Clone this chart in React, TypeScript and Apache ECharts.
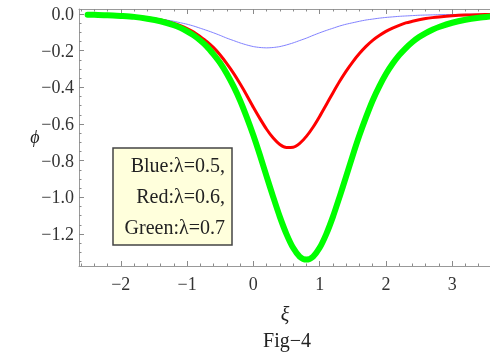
import React, { useEffect, useRef } from "react";
import * as echarts from "echarts";

const xs = [-2.5, -2.4, -2.2, -2.0, -1.8, -1.6, -1.4,
  -1.2, -1.1, -1.0, -0.9, -0.8, -0.7, -0.6, -0.5, -0.4, -0.3, -0.2, -0.1, 0,
  0.1, 0.2, 0.3, 0.4, 0.5, 0.6, 0.7, 0.8, 0.9, 1.0, 1.1, 1.2, 1.3, 1.4, 1.5, 1.6, 1.7, 1.8, 1.9, 2.0,
  2.1, 2.2, 2.3, 2.4, 2.5, 2.6, 2.7, 2.8,
  3.0, 3.2, 3.4, 3.6];
const blueVals = [-0.003, -0.004, -0.006, -0.009, -0.013, -0.019, -0.028,
  -0.040, -0.048, -0.056, -0.066, -0.078, -0.090, -0.103, -0.117, -0.132, -0.145, -0.158, -0.169, -0.178,
  -0.183, -0.185, -0.183, -0.178, -0.169, -0.158, -0.145, -0.132, -0.117, -0.103, -0.090, -0.078, -0.066, -0.056, -0.048, -0.040, -0.033, -0.028, -0.023, -0.019,
  -0.016, -0.013, -0.011, -0.009, -0.007, -0.006, -0.005, -0.004,
  -0.003, -0.002, -0.001, -0.001];
const redVals = [-0.002, -0.003, -0.005, -0.008, -0.013, -0.021, -0.033,
  -0.052, -0.064, -0.080, -0.099, -0.124, -0.151, -0.184, -0.224, -0.271, -0.323, -0.381, -0.443, -0.509,
  -0.571, -0.629, -0.677, -0.712, -0.728, -0.727, -0.706, -0.668, -0.618, -0.559, -0.495, -0.431, -0.369, -0.312, -0.261, -0.216, -0.177, -0.144, -0.118, -0.095,
  -0.077, -0.062, -0.049, -0.040, -0.032, -0.025, -0.020, -0.016,
  -0.010, -0.006, -0.004, -0.003];
const greenVals = [-0.004, -0.005, -0.007, -0.011, -0.016, -0.026, -0.040,
  -0.061, -0.076, -0.095, -0.117, -0.145, -0.178, -0.221, -0.268, -0.326, -0.394, -0.472, -0.563, -0.662,
  -0.771, -0.886, -0.999, -1.107, -1.201, -1.276, -1.324, -1.340, -1.324, -1.276, -1.201, -1.107, -0.999, -0.886, -0.771, -0.662, -0.563, -0.472, -0.395, -0.328,
  -0.272, -0.225, -0.186, -0.153, -0.126, -0.104, -0.086, -0.071,
  -0.048, -0.032, -0.021, -0.013];

const xMajor = [-2, -1, 0, 1, 2, 3];
const yMajor = [0, -0.2, -0.4, -0.6, -0.8, -1.0, -1.2];
const legendLines = ["Blue:\u03bb=0.5,", "Red:\u03bb=0.6,", "Green:\u03bb=0.7"];
const xTitle = "\u03be";
const yTitle = "\u03d5";
const caption = "Fig\u22124";

const X_MIN = -2.63;
const X_MAX = 3.57;
const Y_MIN = -1.375;
const Y_MAX = 0.027;

const xMinor: number[] = [];
for (let k = -13; k <= 18; k++) xMinor.push(Math.round(k * 2) / 10);
const yMinor: number[] = [];
for (let k = -27; k <= 0; k++) yMinor.push(Math.round(k * 5) / 100);

const FONT = "'Liberation Serif', 'DejaVu Serif', serif";
const AXIS_COLOR = "#999999";
const TICK_COLOR = "#8a8a8a";

const minus = (s: string) => s.replace("-", "\u2212");

export default function App() {
  const ref = useRef<HTMLDivElement>(null);
  useEffect(() => {
    document.body.style.margin = "0";
    if (!ref.current) return;
    const chart = echarts.init(ref.current, undefined, { renderer: "svg" });
    const mk = (vals: number[]) => xs.map((x, i) => [x, vals[i]]);
    const baseX = {
      type: "value" as const,
      min: X_MIN,
      max: X_MAX,
      splitLine: { show: false },
    };
    const baseY = {
      type: "value" as const,
      min: Y_MIN,
      max: Y_MAX,
      splitLine: { show: false },
    };
    const line = (color: string, width: number) => ({
      color,
      width,
      cap: "round" as const,
      join: "round" as const,
    });
    chart.setOption({
      animation: false,
      grid: { left: 79, top: 9, right: -3, bottom: 88, containLabel: false },
      xAxis: [
        {
          ...baseX,
          position: "bottom",
          axisLine: { show: true, onZero: false, lineStyle: { color: AXIS_COLOR, width: 1 } },
          axisTick: { show: true, inside: true, length: 5, customValues: xMajor, lineStyle: { color: TICK_COLOR } },
          axisLabel: {
            show: true,
            customValues: xMajor,
            margin: 9,
            color: "#333",
            fontFamily: FONT,
            fontSize: 18,
            formatter: (v: number) => minus(String(v)),
          },
        },
        {
          ...baseX,
          position: "bottom",
          axisLine: { show: false, onZero: false },
          axisTick: { show: true, inside: true, length: 2.5, customValues: xMinor, lineStyle: { color: TICK_COLOR } },
          axisLabel: { show: false },
        },
        {
          ...baseX,
          position: "top",
          axisLine: { show: true, onZero: false, lineStyle: { color: AXIS_COLOR, width: 1 } },
          axisTick: { show: true, inside: true, length: 5, customValues: xMajor, lineStyle: { color: TICK_COLOR } },
          axisLabel: { show: false },
        },
        {
          ...baseX,
          position: "top",
          axisLine: { show: false, onZero: false },
          axisTick: { show: true, inside: true, length: 2.5, customValues: xMinor, lineStyle: { color: TICK_COLOR } },
          axisLabel: { show: false },
        },
      ],
      yAxis: [
        {
          ...baseY,
          position: "left",
          axisLine: { show: true, onZero: false, lineStyle: { color: AXIS_COLOR, width: 1 } },
          axisTick: { show: true, inside: true, length: 5, customValues: yMajor, lineStyle: { color: TICK_COLOR } },
          axisLabel: {
            show: true,
            customValues: yMajor,
            margin: 5,
            color: "#333",
            fontFamily: FONT,
            fontSize: 18,
            formatter: (v: number) => minus(v.toFixed(1)),
          },
        },
        {
          ...baseY,
          position: "left",
          axisLine: { show: false, onZero: false },
          axisTick: { show: true, inside: true, length: 2.5, customValues: yMinor, lineStyle: { color: TICK_COLOR } },
          axisLabel: { show: false },
        },
      ],
      series: [
        {
          type: "line",
          xAxisIndex: 0,
          yAxisIndex: 0,
          data: mk(blueVals),
          smooth: 0.25,
          showSymbol: false,
          lineStyle: line("#8080ff", 1),
          z: 2,
        },
        {
          type: "line",
          xAxisIndex: 0,
          yAxisIndex: 0,
          data: mk(redVals),
          smooth: 0.25,
          showSymbol: false,
          lineStyle: line("#ff0000", 3),
          z: 3,
        },
        {
          type: "line",
          xAxisIndex: 0,
          yAxisIndex: 0,
          data: mk(greenVals),
          smooth: 0.25,
          showSymbol: false,
          lineStyle: line("#00ff00", 6),
          z: 4,
        },
      ],
      graphic: [
        {
          type: "rect",
          shape: { x: 113, y: 148, width: 119, height: 97 },
          style: { fill: "#ffffdc", stroke: "#444", lineWidth: 1.5 },
          z: 100,
        },
        ...legendLines.map((t, i) => ({
          type: "text",
          x: 225,
          y: 165 + i * 31,
          style: {
            text: t,
            font: `20px ${FONT}`,
            fill: "#222",
            textAlign: "right",
            textVerticalAlign: "middle",
          },
          z: 101,
        })),
        {
          type: "text",
          x: 35,
          y: 137,
          style: { text: yTitle, font: `italic 18px ${FONT}`, fill: "#222", textAlign: "center", textVerticalAlign: "middle" },
        },
        {
          type: "text",
          x: 285,
          y: 314,
          style: { text: xTitle, font: `italic 20px ${FONT}`, fill: "#222", textAlign: "center", textVerticalAlign: "middle" },
        },
        {
          type: "text",
          x: 287,
          y: 340,
          style: { text: caption, font: `20px ${FONT}`, fill: "#222", textAlign: "center", textVerticalAlign: "middle" },
        },
      ],
    });
    return () => chart.dispose();
  }, []);
  return <div ref={ref} style={{ width: 490, height: 354, position: "fixed", left: 0, top: 0 }} />;
}
